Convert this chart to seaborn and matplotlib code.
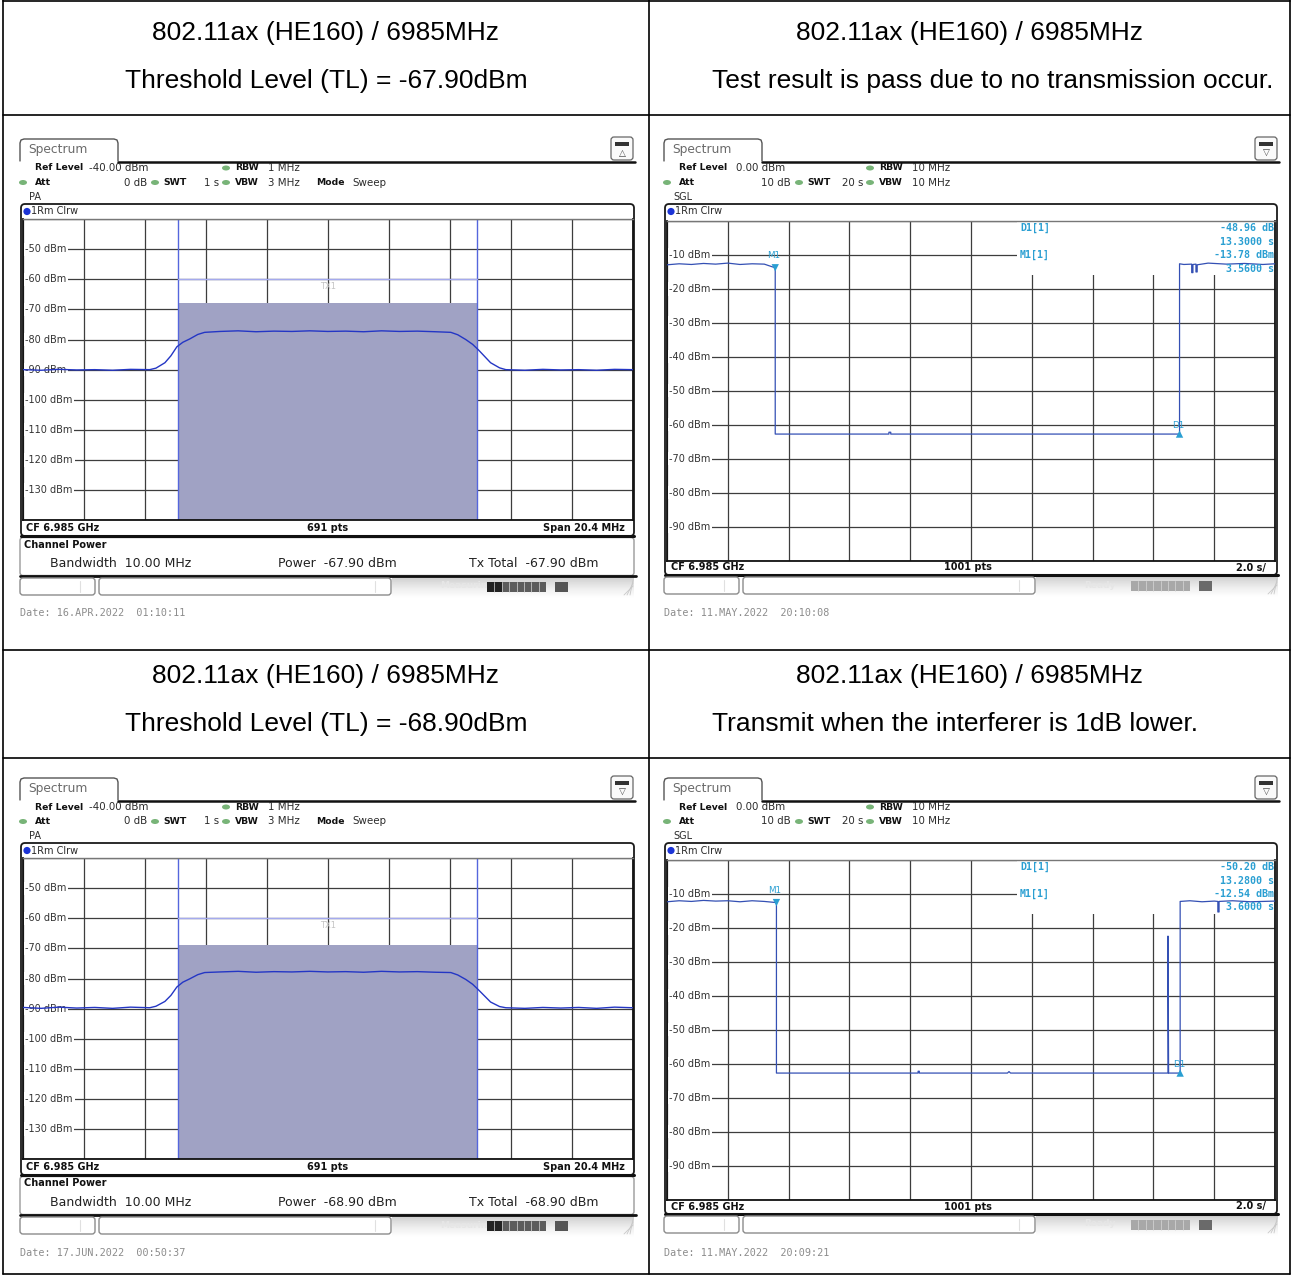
import numpy as np
import pandas as pd
import matplotlib
matplotlib.use("Agg")
import matplotlib.pyplot as plt
import matplotlib.transforms as mtransforms
from matplotlib.patches import FancyBboxPatch, Rectangle, Ellipse, Circle
import seaborn as sns

sns.set_style("white")
plt.rcParams["font.family"] = ["DejaVu Sans"]

# ---------------- captions of the four result cells ----------------
cell_titles = ["802.11ax (HE160) / 6985MHz"] * 4
cell_notes = [
    "Threshold Level (TL) = -67.90dBm",
    "Test result is pass due to no transmission occur.",
    "Threshold Level (TL) = -68.90dBm",
    "Transmit when the interferer is 1dB lower.",
]

# ---------------- channel power sweeps (left column) ----------------
span_mhz = 20.4
channel_bw_mhz = 10.00
spec_ref_level = -40.0
tx1_level = -60.0
channel_power = [-67.90, -68.90]
tx_total = [-67.90, -68.90]
spec_dates = ["Date: 16.APR.2022  01:10:11", "Date: 17.JUN.2022  00:50:37"]
spec_icons = ["\u25b3", "\u25bd"]

spec_freq_a = [-10.2, -9.6, -9.0, -8.4, -7.8, -7.2, -6.6, -5.96, -5.75, -5.45, -5.25,
               -5.05, -4.85, -4.62, -4.35, -4.12, -3.6, -3.0, -2.4, -1.8, -1.2, -0.6,
               0.0, 0.6, 1.2, 1.8, 2.4, 3.0, 3.6, 4.12, 4.35, 4.62, 4.85, 5.05, 5.25,
               5.45, 5.75, 5.96, 6.6, 7.2, 7.8, 8.4, 9.0, 9.6, 10.2]
spec_level_a = [-90.0, -90.2, -89.9, -90.1, -90.0, -90.2, -89.9, -90.0, -89.5, -87.7, -85.4,
                -82.4, -80.9, -79.8, -78.3, -77.6, -77.3, -77.1, -77.4, -77.2, -77.3, -77.1,
                -77.3, -77.2, -77.4, -77.1, -77.3, -77.2, -77.4, -77.6, -78.4, -80.0, -81.6, -83.5, -85.6,
                -87.7, -89.4, -90.0, -90.2, -89.9, -90.1, -90.0, -90.2, -89.9, -90.0]
spec_freq_c = spec_freq_a
spec_level_c = [-89.6, -89.9, -89.5, -89.8, -89.6, -89.9, -89.5, -89.7, -89.2, -87.6, -85.6,
                -82.8, -81.2, -80.1, -78.7, -78.0, -77.8, -77.6, -77.9, -77.7, -77.8, -77.6,
                -77.8, -77.7, -77.9, -77.6, -77.8, -77.7, -77.9, -78.0, -78.8, -80.3, -81.9, -83.8, -85.8,
                -87.8, -89.3, -89.7, -89.9, -89.6, -89.8, -89.6, -89.9, -89.5, -89.7]

# ---------------- zero-span sweeps (right column) ----------------
sweep_s = 20.0
time_ref_level = 0.0
time_dates = ["Date: 11.MAY.2022  20:10:08", "Date: 11.MAY.2022  20:09:21"]
m1_time = [3.56, 3.60]
m1_level = [-13.78, -12.54]
d1_dt = [13.30, 13.28]
d1_dl = [-48.96, -50.20]

time_b = [0.00, 0.40, 0.80, 1.20, 1.60, 2.00, 2.40, 2.80, 3.20, 3.56, 3.56, 7.30, 7.30,
          7.36, 7.36, 16.86, 16.86, 17.00, 17.26, 17.26, 17.30, 17.30, 17.40, 17.40,
          17.44, 17.44, 17.80, 18.40, 19.00, 19.60, 20.00]
level_b = [-12.9, -12.6, -12.8, -12.5, -12.7, -12.4, -12.8, -12.6, -12.7, -13.78, -62.74, -62.74, -62.2,
           -62.2, -62.74, -62.74, -12.6, -12.8, -12.7, -15.2, -15.2, -12.8, -12.7, -15.0,
           -15.0, -12.9, -12.4, -12.7, -12.5, -12.8, -12.6]
time_d = [0.00, 0.40, 0.80, 1.20, 1.60, 2.00, 2.40, 2.80, 3.20, 3.60, 3.60, 8.26, 8.26, 8.30,
          8.30, 11.20, 11.25, 11.30, 16.48, 16.48, 16.50, 16.88, 16.88, 17.20, 17.60, 18.00,
          18.12, 18.12, 18.16, 18.16, 18.60, 19.20, 20.00]
level_d = [-12.3, -12.0, -12.2, -11.9, -12.1, -12.0, -12.3, -12.0, -12.2, -12.54, -62.74, -62.74, -62.2,
           -62.2, -62.74, -62.74, -62.3, -62.74, -62.74, -22.4, -62.74, -62.74, -12.2, -12.0, -12.3, -12.1,
           -12.2, -15.3, -15.3, -12.2, -12.0, -12.3, -12.1]

# ---------------- figure in pixel space ----------------
W, H = 1292, 1275
fig = plt.figure(figsize=(W / 100, H / 100), dpi=100)
bg = fig.add_axes([0, 0, 1, 1])
bg.set_xlim(0, W)
bg.set_ylim(H, 0)
bg.axis("off")

TRACE = "#2436c4"
MARK = "#2a9fd2"
GRID = "#3d3d3d"
REG = 7.4     # regular header text
BOLD = 6.7    # bold header text


def px_axes(x0, y0, x1, y1):
    return fig.add_axes([x0 / W, 1 - y1 / H, (x1 - x0) / W, (y1 - y0) / H])


def txt(x, y, s, size=REG, weight="normal", color="#2b2b2b", ha="left", va="center",
        family="DejaVu Sans", **kw):
    bg.text(x, y, s, fontsize=size, fontweight=weight, color=color, ha=ha, va=va,
            family=family, **kw)


def rbox(x, y, w, h, ec="#8a8a8a", fc="white", lw=1.0, r=3, z=1):
    bg.add_patch(FancyBboxPatch((x, y), w, h, boxstyle=f"round,pad=0,rounding_size={r}",
                                ec=ec, fc=fc, lw=lw, zorder=z))


def dot(x, y):
    bg.add_patch(Ellipse((x, y), 8, 5, fc="#78b478", ec="none", zorder=3))


def header(ox, oy, ref_x, ref_val, rbw, att, swt, vbw, mode, third, icon):
    # tab outline and the rule running right from it
    bg.plot([20 + ox, 20 + ox, 21 + ox, 24 + ox, 114 + ox, 117 + ox, 118 + ox, 118 + ox],
            [161 + oy, 143 + oy, 140 + oy, 139 + oy, 139 + oy, 140 + oy, 143 + oy, 161 + oy],
            color="#555555", lw=1.0, zorder=2)
    bg.plot([118 + ox, 635 + ox], [161.5 + oy, 161.5 + oy], color="#111111", lw=1.8, zorder=2)
    txt(28 + ox, 149.5 + oy, "Spectrum", size=8.8, color="#6a6a6a")
    # display icon
    rbox(611 + ox, 137 + oy, 22, 23, ec="#666666", fc="#fafafa", lw=0.9, r=3, z=3)
    bg.add_patch(Rectangle((615 + ox, 142 + oy), 14, 4, fc="#333333", ec="none", zorder=4))
    txt(622 + ox, 153.5 + oy, icon, size=6.5, ha="center", color="#444444", zorder=4)
    y1, y2 = 168 + oy, 182.5 + oy
    txt(35 + ox, y1, "Ref Level", weight="bold", size=BOLD, color="#111111")
    txt(ref_x + ox, y1, ref_val)
    dot(226 + ox, y1)
    txt(235 + ox, y1, "RBW", weight="bold", size=BOLD, color="#111111")
    txt(268 + ox, y1, rbw)
    dot(23 + ox, y2)
    txt(35 + ox, y2, "Att", weight="bold", size=BOLD, color="#111111")
    txt(147 + ox, y2, att, ha="right")
    dot(155 + ox, y2)
    txt(163 + ox, y2, "SWT", weight="bold", size=BOLD, color="#111111")
    txt(219 + ox, y2, swt, ha="right")
    dot(226 + ox, y2)
    txt(235 + ox, y2, "VBW", weight="bold", size=BOLD, color="#111111")
    txt(268 + ox, y2, vbw)
    if mode:
        txt(316 + ox, y2, "Mode", weight="bold", size=BOLD, color="#111111")
        txt(352 + ox, y2, "Sweep")
    txt(29 + ox, 197 + oy, third, size=7.0)
    bg.add_patch(Circle((27 + ox, 211.5 + oy), 3.6, fc="#1c34d6", ec="none", zorder=4))
    txt(31 + ox, 211.5 + oy, "1Rm Clrw", size=7.0)


def status_bar(ox, oy, label, bar_color, bar_dark, icon_color):
    y0 = 578 + oy
    rbox(20 + ox, y0, 75, 17, ec="#8c8c8c", r=3, z=2)
    bg.plot([80 + ox, 80 + ox], [y0 + 3, y0 + 14], color="#e0e0e0", lw=0.8, zorder=3)
    rbox(99 + ox, y0, 292, 17, ec="#8c8c8c", r=3, z=2)
    bg.plot([375 + ox, 375 + ox], [y0 + 3, y0 + 14], color="#e0e0e0", lw=0.8, zorder=3)
    grad = np.linspace(0.30, 0.0, 24)[:, None]
    bg.imshow(grad, extent=[392 + ox, 634 + ox, y0 + 20, y0 - 1], cmap="Greys", vmin=0, vmax=1,
              aspect="auto", zorder=1)
    bg.text(440 + ox, y0 + 8, label, fontsize=6.5, fontweight="bold", color="#e6e6e6",
            va="center", zorder=3)
    bg.add_patch(Rectangle((487 + ox, y0 + 4), 59, 10, fc=bar_color, ec="none", zorder=3))
    if bar_dark:
        bg.add_patch(Rectangle((487 + ox, y0 + 4), 15, 10, fc="#222222", ec="none", zorder=4))
    for k in range(1, 8):
        xs = 487 + ox + k * 59 / 8
        bg.plot([xs, xs], [y0 + 4, y0 + 14], color="#d8d8d8", lw=0.5, zorder=5)
    bg.add_patch(Rectangle((555 + ox, y0 + 4), 13, 10, fc=icon_color, ec="none", zorder=3))
    for k in range(3):
        bg.plot([624 + ox + 3 * k, 633 + ox], [y0 + 17, y0 + 8 - 3 * k], color="#c8c8c8",
                lw=0.6, zorder=3)


# ---------------- table grid and captions ----------------
for x in (3, 649, 1290):
    bg.plot([x, x], [0, 1274], color="black", lw=1.2, zorder=6)
for y in (0.5, 115, 650, 758, 1274):
    bg.plot([3, 1290], [y, y], color="black", lw=1.2, zorder=6)

cap_x = [326, 970, 326, 970]
cap_y = [(33, 81), (33, 81), (676, 724), (676, 724)]
note_x = [326, 712, 326, 712]
note_ha = ["center", "left", "center", "left"]
for i in range(4):
    ya, yb = cap_y[i]
    txt(cap_x[i], ya, cell_titles[i], size=19, ha="center", family="Liberation Sans",
        color="#000000")
    txt(note_x[i], yb, cell_notes[i], size=19, ha=note_ha[i], family="Liberation Sans",
        color="#000000")


# ---------------- channel power panels ----------------
def spectrum_panel(oy, freq, level, power, total, date, icon):
    header(0, oy, 89, "-40.00 dBm", "1 MHz", "0 dB", "1 s", "3 MHz", True, "PA", icon)
    rbox(21, 204 + oy, 613, 332, ec="#1a1a1a", lw=1.3, r=4, z=1)
    bg.plot([21, 634], [535.5 + oy, 535.5 + oy], color="#111111", lw=2.2, zorder=2)
    txt(26, 528 + oy, "CF 6.985 GHz", weight="bold", size=7.0, color="#111111")
    txt(328, 528 + oy, "691 pts", weight="bold", size=7.0, color="#111111", ha="center")
    txt(625, 528 + oy, f"Span {span_mhz:.1f} MHz", weight="bold", size=7.0, color="#111111",
        ha="right")
    rbox(20, 537.5 + oy, 614, 38, ec="#9a9a9a", lw=1.0, r=3, z=1)
    bg.plot([20, 636], [576 + oy, 576 + oy], color="#111111", lw=2.0, zorder=2)
    txt(24, 544.5 + oy, "Channel Power", weight="bold", size=7.0, color="#111111")
    txt(50, 563.5 + oy, f"Bandwidth  {channel_bw_mhz:.2f} MHz", size=9.0, color="#222222")
    txt(278, 563.5 + oy, f"Power  {power:.2f} dBm", size=9.0, color="#222222")
    txt(469, 563.5 + oy, f"Tx Total  {total:.2f} dBm", size=9.0, color="#222222")
    status_bar(0, oy, "Measuring", "#5c5c5c", True, "#555555")
    txt(20, 613.5 + oy, date, size=7.3, family="DejaVu Sans Mono", color="#8c8c8c")

    ax = px_axes(23, 219.2 + oy, 632.5, 520.1 + oy)
    lo_y, hi_y = spec_ref_level - 100, spec_ref_level
    ax.set_xlim(-span_mhz / 2, span_mhz / 2)
    ax.set_ylim(lo_y, hi_y)
    ax.set_xticks(np.linspace(-span_mhz / 2, span_mhz / 2, 11))
    ax.set_yticks(np.arange(lo_y, hi_y + 1, 10))
    ax.tick_params(length=0, labelbottom=False, labelleft=False)
    ax.grid(True, color=GRID, lw=0.9)
    ax.set_axisbelow(True)
    for s in ax.spines.values():
        s.set_color("#111111")
        s.set_linewidth(1.3)
    ax.spines["top"].set_color("#777777")
    ax.spines["top"].set_linewidth(1.0)
    lo, hi = -channel_bw_mhz / 2, channel_bw_mhz / 2
    ax.fill_between([lo, hi], lo_y, power, color="#a0a2c4", lw=0, zorder=1)
    ax.axvline(lo, color="#5566dd", lw=1.0, zorder=2)
    ax.axvline(hi, color="#5566dd", lw=1.0, zorder=2)
    ax.plot([lo, hi], [tx1_level, tx1_level], color="#a4aaee", lw=1.0, zorder=2)
    ax.text(0, tx1_level - 2.3, "TX1", fontsize=6, color="#c4c4c4", ha="center", va="center",
            zorder=2)
    blend = mtransforms.blended_transform_factory(ax.transAxes, ax.transData)
    for lv in np.arange(hi_y - 10, lo_y, -10):
        ax.text(0.004, lv, f"{lv:.0f} dBm", transform=blend, fontsize=7.0, color="#333333",
                va="center", ha="left", zorder=1.6,
                bbox=dict(fc="white", ec="none", pad=1.2))
    df = pd.DataFrame({"freq": freq, "level": level})
    sns.lineplot(data=df, x="freq", y="level", ax=ax, estimator=None, sort=False,
                 color=TRACE, lw=1.0, zorder=3)
    ax.set_xlabel("")
    ax.set_ylabel("")


spectrum_panel(0, spec_freq_a, spec_level_a, channel_power[0], tx_total[0], spec_dates[0],
               spec_icons[0])
spectrum_panel(639, spec_freq_c, spec_level_c, channel_power[1], tx_total[1], spec_dates[1],
               spec_icons[1])

# ---------------- zero-span panels ----------------
time_panels = []


def time_panel(oy, t, lv, idx):
    ox = 644
    header(ox, oy, 92, "0.00 dBm", "10 MHz", "10 dB", "20 s", "10 MHz", False, "SGL", "\u25bd")
    rbox(665, 204 + oy, 612, 371, ec="#1a1a1a", lw=1.3, r=4, z=1)
    bg.plot([665, 1278], [574.5 + oy, 574.5 + oy], color="#111111", lw=2.2, zorder=2)
    txt(671, 567.5 + oy, "CF 6.985 GHz", weight="bold", size=7.0, color="#111111")
    txt(968, 567.5 + oy, "1001 pts", weight="bold", size=7.0, color="#111111", ha="center")
    txt(1266, 567.5 + oy, f"{sweep_s / 10:.1f} s/", weight="bold", size=7.0, color="#111111",
        ha="right")
    status_bar(ox, oy - 1, "Ready", "#a8a8a8", False, "#6a6a6a")
    txt(664, 613.5 + oy, time_dates[idx], size=7.3, family="DejaVu Sans Mono", color="#8c8c8c")

    ax = px_axes(667, 221 + oy, 1275, 560.6 + oy)
    lo_y, hi_y = time_ref_level - 100, time_ref_level
    ax.set_xlim(0, sweep_s)
    ax.set_ylim(lo_y, hi_y)
    ax.set_xticks(np.linspace(0, sweep_s, 11))
    ax.set_yticks(np.arange(lo_y, hi_y + 1, 10))
    ax.tick_params(length=0, labelbottom=False, labelleft=False)
    ax.grid(True, color=GRID, lw=0.9)
    ax.set_axisbelow(True)
    for s in ax.spines.values():
        s.set_color("#111111")
        s.set_linewidth(1.3)
    ax.spines["top"].set_color("#777777")
    ax.spines["top"].set_linewidth(1.0)
    # marker readout area keeps the grid clear
    ax.add_patch(Rectangle((11.5, -15.9), sweep_s - 11.5, 15.9, fc="white", ec="none", zorder=1))
    blend = mtransforms.blended_transform_factory(ax.transAxes, ax.transData)
    for lvl in np.arange(hi_y - 10, lo_y, -10):
        ax.text(0.004, lvl, f"{lvl:.0f} dBm", transform=blend, fontsize=7.0, color="#333333",
                va="center", ha="left", zorder=1.6,
                bbox=dict(fc="white", ec="none", pad=1.2))
    df = pd.DataFrame({"time": t, "level": lv})
    sns.lineplot(data=df, x="time", y="level", ax=ax, estimator=None, sort=False,
                 color="#3450b4", lw=0.9, zorder=3)
    m_t, m_l = m1_time[idx], m1_level[idx]
    d_t, d_l = m_t + d1_dt[idx], m_l + d1_dl[idx]
    sns.scatterplot(x=[m_t], y=[m_l], marker="v", s=28, color=MARK, edgecolor="none",
                    ax=ax, zorder=5)
    sns.scatterplot(x=[d_t], y=[d_l], marker="^", s=28, color=MARK, edgecolor="none",
                    ax=ax, zorder=5)
    ax.annotate("M1", (m_t, m_l), xytext=(-1, 8.5), textcoords="offset points", fontsize=6.3,
                color=MARK, ha="center", va="center", zorder=5)
    ax.annotate("D1", (d_t, d_l), xytext=(-1, 6.5), textcoords="offset points", fontsize=6.3,
                color=MARK, ha="center", va="center", zorder=5)
    ax.set_xlabel("")
    ax.set_ylabel("")
    time_panels.append((oy, idx))


time_panel(0, time_b, level_b, 0)
time_panel(639, time_d, level_d, 1)

# marker readouts drawn over the zero-span plots
fg = fig.add_axes([0, 0, 1, 1])
fg.set_xlim(0, W)
fg.set_ylim(H, 0)
fg.axis("off")
fg.patch.set_alpha(0)
for oy, idx in time_panels:
    m_l = m1_level[idx]
    rows = [("D1[1]", f"{d1_dl[idx]:.2f} dB"), ("", f"{d1_dt[idx]:.4f} s"),
            ("M1[1]", f"{m_l:.2f} dBm"), ("", f"{m1_time[idx]:.4f} s")]
    for k, (lab, val) in enumerate(rows):
        yy = 228.3 + oy + k * 13.4
        if lab:
            fg.text(1020, yy, lab, fontsize=7.2, family="DejaVu Sans Mono", fontweight="bold",
                    color=MARK, va="center", ha="left")
        fg.text(1274, yy, val, fontsize=7.2, family="DejaVu Sans Mono", fontweight="bold",
                color=MARK, va="center", ha="right")

bg.set_xlim(0, W)
bg.set_ylim(H, 0)
fig.savefig("out.png", dpi=100)
